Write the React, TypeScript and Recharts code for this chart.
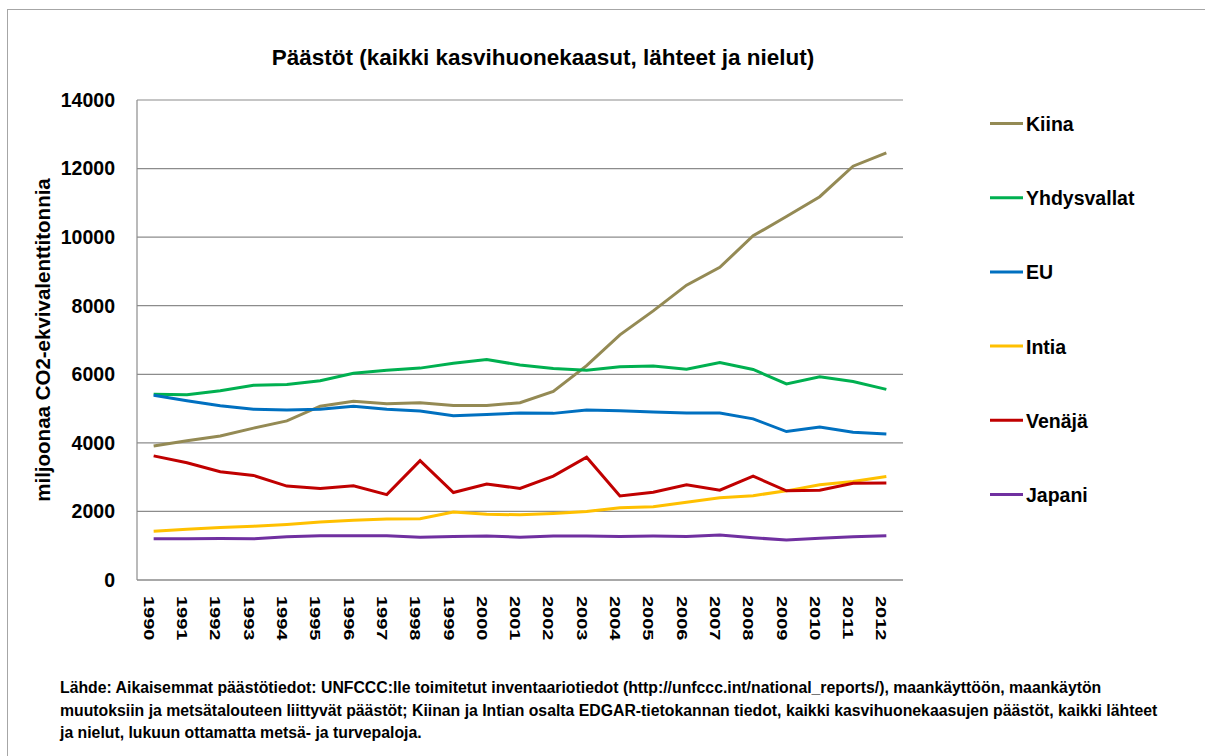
import { CartesianGrid, Line, LineChart, XAxis, YAxis } from "recharts";

const years = [
  "1990", "1991", "1992", "1993", "1994", "1995", "1996", "1997", "1998", "1999", "2000", "2001",
  "2002", "2003", "2004", "2005", "2006", "2007", "2008", "2009", "2010", "2011", "2012",
];

const kiina = [3910, 4060, 4200, 4430, 4640, 5070, 5210, 5140, 5170, 5090, 5090, 5170, 5500, 6250, 7150, 7850, 8600, 9120, 10040, 10600, 11180, 12070, 12460];
const yhdysvallat = [5420, 5400, 5520, 5680, 5700, 5810, 6030, 6120, 6180, 6320, 6430, 6270, 6170, 6120, 6220, 6240, 6150, 6340, 6140, 5720, 5930, 5790, 5560];
const eu = [5390, 5230, 5080, 4980, 4960, 4980, 5070, 4980, 4930, 4790, 4830, 4870, 4860, 4960, 4940, 4900, 4870, 4870, 4700, 4330, 4460, 4310, 4260];
const intia = [1420, 1480, 1530, 1570, 1620, 1690, 1740, 1780, 1790, 1980, 1920, 1900, 1940, 2000, 2110, 2140, 2270, 2400, 2460, 2600, 2780, 2870, 3020];
const venaja = [3620, 3420, 3160, 3050, 2740, 2670, 2750, 2490, 3480, 2550, 2800, 2670, 3030, 3580, 2450, 2560, 2780, 2620, 3030, 2600, 2620, 2820, 2830];
const japani = [1200, 1200, 1210, 1200, 1260, 1290, 1290, 1290, 1250, 1270, 1280, 1250, 1280, 1280, 1270, 1280, 1270, 1310, 1230, 1170, 1220, 1260, 1290];

const yTicks = [0, 2000, 4000, 6000, 8000, 10000, 12000, 14000];

const series = [
  { key: "kiina", name: "Kiina", color: "#948A54", values: kiina },
  { key: "yhdysvallat", name: "Yhdysvallat", color: "#00B050", values: yhdysvallat },
  { key: "eu", name: "EU", color: "#0070C0", values: eu },
  { key: "intia", name: "Intia", color: "#FFC000", values: intia },
  { key: "venaja", name: "Venäjä", color: "#C00000", values: venaja },
  { key: "japani", name: "Japani", color: "#7030A0", values: japani },
];

const footnote = [
  "Lähde: Aikaisemmat päästötiedot: UNFCCC:lle toimitetut inventaariotiedot (http://unfccc.int/national_reports/), maankäyttöön, maankäytön",
  "muutoksiin ja metsätalouteen liittyvät päästöt; Kiinan ja Intian osalta EDGAR-tietokannan tiedot, kaikki kasvihuonekaasujen päästöt, kaikki lähteet",
  "ja nielut, lukuun ottamatta metsä- ja turvepaloja.",
];

const data = years.map((year, i) => {
  const row: Record<string, string | number> = { year };
  series.forEach((s) => {
    row[s.key] = s.values[i];
  });
  return row;
});

const FONT = "'Liberation Sans', Arial, sans-serif";

const YearTick = (props: any) => {
  const { x, y, payload } = props;
  return (
    <text
      transform={`translate(${x - 5}, ${y + 16}) rotate(90) scale(1, 0.7)`}
      textAnchor="start"
      dominantBaseline="central"
      fontFamily={FONT}
      fontWeight="bold"
      fontSize={20}
      fill="#000"
    >
      {payload.value}
    </text>
  );
};

export default function App() {
  return (
    <div
      style={{
        position: "absolute",
        left: 0,
        top: 0,
        width: 1205,
        height: 756,
        overflow: "hidden",
        background: "#fff",
        fontFamily: FONT,
      }}
    >
      <div
        style={{
          position: "absolute",
          left: 7,
          top: 9,
          width: 1220,
          height: 780,
          border: "1px solid #a6a6a6",
        }}
      />
      <div style={{ position: "absolute", left: 0, top: 0 }}>
        <LineChart
          width={1205}
          height={756}
          data={data}
          margin={{ top: 100, right: 302, bottom: 116, left: 97 }}
        >
          <CartesianGrid vertical={false} stroke="#8c8c8c" strokeWidth={1.2} />
          <XAxis
            dataKey="year"
            height={60}
            padding={{ left: 16.65, right: 16.65 }}
            interval={0}
            tickLine={false}
            tickSize={0}
            tickMargin={0}
            stroke="#8c8c8c"
            strokeWidth={1.2}
            tick={<YearTick />}
          />
          <YAxis
            width={40}
            domain={[0, 14000]}
            ticks={yTicks}
            interval={0}
            tickLine={false}
            tickSize={0}
            tickMargin={22}
            stroke="#8c8c8c"
            strokeWidth={1.2}
            tick={{ fill: "#000", fontSize: 19.5, fontWeight: "bold", fontFamily: FONT }}
          />
          {series.map((s) => (
            <Line
              key={s.key}
              type="linear"
              dataKey={s.key}
              name={s.name}
              stroke={s.color}
              strokeWidth={3}
              dot={false}
              activeDot={false}
              isAnimationActive={false}
            />
          ))}
        </LineChart>
      </div>
      <svg
        width={1205}
        height={756}
        style={{ position: "absolute", left: 0, top: 0, pointerEvents: "none" }}
      >
        <text
          x={543}
          y={57}
          textAnchor="middle"
          dominantBaseline="central"
          fontFamily={FONT}
          fontWeight="bold"
          fontSize={22.5}
          fill="#000"
        >
          Päästöt (kaikki kasvihuonekaasut, lähteet ja nielut)
        </text>
        <text
          transform="translate(42, 340) rotate(-90)"
          textAnchor="middle"
          dominantBaseline="central"
          fontFamily={FONT}
          fontWeight="bold"
          fontSize={20.5}
          fill="#000"
        >
          miljoonaa CO2-ekvivalenttitonnia
        </text>
        {series.map((s, i) => (
          <g key={s.key}>
            <line x1={990} x2={1023} y1={123.5 + i * 74.2} y2={123.5 + i * 74.2} stroke={s.color} strokeWidth={3} />
            <text
              x={1026}
              y={124 + i * 74.2}
              dominantBaseline="central"
              fontFamily={FONT}
              fontWeight="bold"
              fontSize={19.5}
              fill="#000"
            >
              {s.name}
            </text>
          </g>
        ))}
      </svg>
      <div
        style={{
          position: "absolute",
          left: 60,
          top: 677,
          fontSize: 15.8,
          fontWeight: "bold",
          lineHeight: "22.5px",
          color: "#000",
        }}
      >
        {footnote.map((line, i) => (
          <div key={i} style={{ whiteSpace: "nowrap" }}>
            {line}
          </div>
        ))}
      </div>
    </div>
  );
}
